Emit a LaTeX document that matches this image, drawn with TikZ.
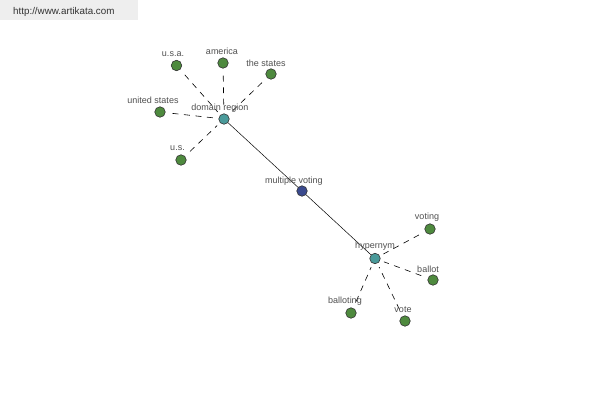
\documentclass[tikz,border=0pt]{standalone}
\usepackage{fontspec}
\setmainfont{Liberation Sans}
\begin{document}
\begin{tikzpicture}[x=1pt,y=-1pt,
  leaf/.style={circle,draw=black!80,fill=leafgreen,minimum size=10.5pt,inner sep=0pt,line width=0.6pt},
  hub/.style={circle,draw=black!80,fill=hubteal,minimum size=10.5pt,inner sep=0pt,line width=0.6pt},
  root/.style={circle,draw=black!80,fill=rootblue,minimum size=10.5pt,inner sep=0pt,line width=0.6pt},
  lbl/.style={font=\fontsize{9}{10}\selectfont,text=labelgray,inner sep=0pt},
  dashedge/.style={draw=black,line width=0.6pt,dash pattern=on 6pt off 5.5pt,shorten <=7pt,shorten >=4pt},
  solidedge/.style={draw=black,line width=0.5pt}]
\definecolor{leafgreen}{HTML}{4E8A3E}
\definecolor{hubteal}{HTML}{4A9A9A}
\definecolor{rootblue}{HTML}{3A4A8E}
\definecolor{labelgray}{HTML}{505050}
\definecolor{wmgray}{HTML}{EEEEEE}
\useasboundingbox (0,0) rectangle (600,400);
\fill[white] (0,0) rectangle (600,400);
% watermark
\node[fill=wmgray,minimum width=138pt,minimum height=20pt,anchor=north west,inner sep=0pt] (wmbox) at (0,0) {};
\node[font=\fontsize{9.8}{11}\selectfont,text=black!80,anchor=west,inner sep=0pt] (wm) at (13,12) {http://www.artikata.com};
% nodes
\node[hub] (dr) at (224,119) {};
\node[leaf] (usa) at (176.5,65.5) {};
\node[leaf] (am) at (223,63) {};
\node[leaf] (ts) at (271,74) {};
\node[leaf] (us1) at (160,112) {};
\node[leaf] (us2) at (181,160) {};
\node[root] (mv) at (302,191) {};
\node[hub] (hy) at (375,258.5) {};
\node[leaf] (vt) at (430,229) {};
\node[leaf] (bl) at (433,280) {};
\node[leaf] (blg) at (351,313) {};
\node[leaf] (vo) at (405,321) {};
% edges
\draw[solidedge] (dr) -- (mv);
\draw[solidedge] (mv) -- (hy);
\draw[dashedge] (usa) -- (dr);
\draw[dashedge] (am) -- (dr);
\draw[dashedge] (ts) -- (dr);
\draw[dashedge] (us1) -- (dr);
\draw[dashedge] (us2) -- (dr);
\draw[dashedge] (vt) -- (hy);
\draw[dashedge] (bl) -- (hy);
\draw[dashedge] (blg) -- (hy);
\draw[dashedge] (vo) -- (hy);
% labels
\node[lbl] (ldr) at (220,108) {domain region};
\node[lbl] (lusa) at (173,54) {u.s.a.};
\node[lbl] (lam) at (222,51.5) {america};
\node[lbl] (lts) at (266,63) {the states};
\node[lbl] (lus1) at (153,100.5) {united states};
\node[lbl] (lus2) at (177.5,148) {u.s.};
\node[lbl] (lmv) at (294,181) {multiple voting};
\node[lbl] (lhy) at (375,246) {hypernym};
\node[lbl] (lvt) at (427,217.5) {voting};
\node[lbl] (lbl) at (428,269) {ballot};
\node[lbl] (lblg) at (345,301) {balloting};
\node[lbl] (lvo) at (403,309.5) {vote};
\end{tikzpicture}
\end{document}
